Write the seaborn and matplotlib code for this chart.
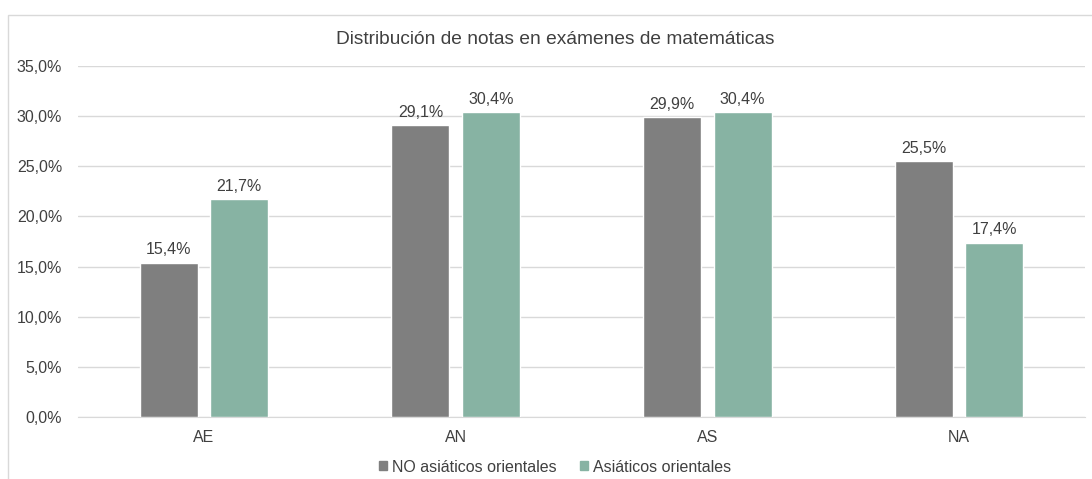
import numpy as np
import matplotlib.pyplot as plt
import matplotlib.patches as mpatches
import seaborn as sns
import pandas as pd

# data
categorias = ["AE", "AN", "AS", "NA"]
no_asiaticos = [15.4, 29.1, 29.9, 25.5]
asiaticos = [21.7, 30.4, 30.4, 17.4]
series = ["NO asiáticos orientales", "Asiáticos orientales"]
y_ticks = [0, 5, 10, 15, 20, 25, 30, 35]

df = pd.DataFrame({
    "categoria": categorias * 2,
    "valor": no_asiaticos + asiaticos,
    "grupo": [series[0]] * len(categorias) + [series[1]] * len(categorias),
})

sns.set_style("white")
plt.rcParams["font.family"] = ["Liberation Sans", "DejaVu Sans"]
text_color = "#404040"
palette = {series[0]: "#7f7f7f", series[1]: "#87b3a3"}

fig = plt.figure(figsize=(10.92, 4.79), dpi=100)
ax = fig.add_axes([78 / 1092, 1 - 417 / 479, 1007 / 1092, (417 - 66) / 479])

sns.barplot(data=df, x="categoria", y="valor", hue="grupo", palette=palette,
            width=0.56, gap=0.18, ax=ax, saturation=1, zorder=3)

# value labels above each bar
for container in ax.containers:
    ax.bar_label(container, labels=[f"{v:.1f}%".replace(".", ",") for v in container.datavalues],
                 padding=4, fontsize=11.5, color=text_color)

ax.set_xlim(-0.5, 3.5)
ax.set_ylim(0, 35)
ax.set_yticks(y_ticks)
ax.set_yticklabels([f"{v:.1f}%".replace(".", ",") for v in y_ticks])
ax.yaxis.grid(True, color="#d9d9d9", linewidth=1, zorder=0)
ax.set_axisbelow(True)
for s in ["top", "right", "left"]:
    ax.spines[s].set_visible(False)
ax.spines["bottom"].set_color("#d9d9d9")
ax.tick_params(axis="both", length=0, labelsize=11.5, colors=text_color)
ax.tick_params(axis="x", pad=9)
ax.tick_params(axis="y", pad=11.5)
ax.set_xlabel("")
ax.set_ylabel("")

fig.text(555 / 1092, 1 - 39 / 479, "Distribución de notas en exámenes de matemáticas",
         ha="center", va="center", fontsize=13.8, color=text_color)

handles = [mpatches.Patch(color=palette[s], label=s) for s in series]
ax.legend(handles=handles, loc="center", bbox_to_anchor=(555 / 1092, 1 - 467 / 479),
          bbox_transform=fig.transFigure, ncol=2, frameon=False, fontsize=11.5,
          handlelength=0.5, handleheight=0.5, handletextpad=0.3, columnspacing=1.5,
          labelcolor=text_color)

# chart-area border
fig.patches.append(mpatches.Rectangle((8 / 1092, -0.1), 1.2, (1 - 15 / 479) + 0.1,
                                      transform=fig.transFigure, fill=False,
                                      edgecolor="#d9d9d9", linewidth=1))

fig.savefig("out.png", dpi=100)
